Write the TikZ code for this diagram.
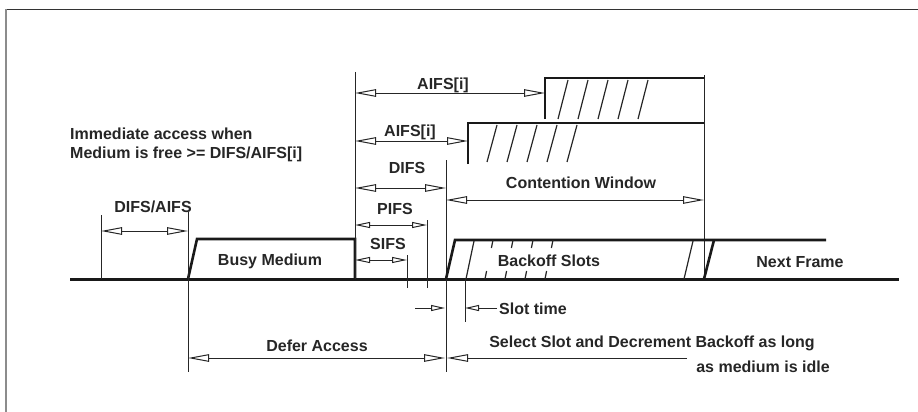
\documentclass[tikz,border=0pt]{standalone}
\usepackage{fontspec}
\setmainfont{Liberation Sans}
\usetikzlibrary{arrows.meta}
\tikzset{
  lbl/.style={font=\fontsize{16}{19}\selectfont\bfseries, text=black!85, inner sep=0pt},
  thinln/.style={line width=1pt, black!85},
  sigln/.style={line width=2.6pt, black!90, line join=miter},
  hatch/.style={line width=1.2pt, black!85},
  dimarr/.style={line width=1pt, black!85, {Triangle[open,length=21pt,width=7.5pt]}-{Triangle[open,length=21pt,width=7.5pt]}},
  onearr/.style={line width=1pt, black!85, -{Triangle[open,length=21pt,width=7.5pt]}},
  smallarr/.style={line width=1pt, black!85, {Triangle[open,length=15pt,width=6pt]}-{Triangle[open,length=15pt,width=6pt]}},
  tinyarr/.style={line width=1pt, black!85, -{Triangle[open,length=14pt,width=6pt]}}
}
\begin{document}
\begin{tikzpicture}[x=1pt,y=-1pt]
\useasboundingbox (0,0) rectangle (918,412);
% frame
\draw[line width=1.6pt, black!80] (5,9.5) -- (918,9.5);
\draw[line width=2pt, black!45] (6,9.5) -- (6,412);

% key coordinates
\coordinate (dA) at (101,215);
\coordinate (busyL) at (188,279);
\coordinate (busyR) at (355,279);
\coordinate (difsX) at (446,279);
\coordinate (cwR) at (704,279);

% baseline
\draw[line width=3pt, black!90] (70,279) -- (899,279);

% busy medium
\draw[sigln] (busyL) -- (197,239) -- (355,239) -- (busyR);
\draw[thinln] (355,72) -- (busyR);

% DIFS/AIFS
\draw[thinln] (dA) -- (101,279);
\draw[thinln] (188,212) -- (188,372);
\draw[dimarr] (101,231) -- (188,231);
\node[lbl] (difsaifs) at (153,207) {DIFS/AIFS};
\node[lbl] (busy) at (270,261) {Busy Medium};

% SIFS
\draw[smallarr] (355,260) -- (407,260);
\draw[thinln] (407,255) -- (407,288);
\node[lbl] (sifs) at (388,244) {SIFS};

% PIFS
\draw[smallarr] (355,225) -- (427,225);
\draw[thinln] (427,220) -- (427,288);
\node[lbl] (pifs) at (395,209) {PIFS};

% DIFS
\draw[dimarr] (355,188) -- (446,188);
\draw[thinln] (446,160) -- (446,372);
\node[lbl] (difs) at (407,168) {DIFS};

% contention window
\draw[dimarr] (446,200) -- (704,200);
\node[lbl] (cw) at (581,183) {Contention Window};
\draw[thinln] (704,75) -- (cwR);

% AIFS top
\draw[dimarr] (355,93) -- (545,93);
\node[lbl] (aifs1) at (443,85) {AIFS[i]};
\draw[sigln] (545,119) -- (545,78) -- (704,78);
\foreach \i in {0,...,4}
  \draw[hatch] (558+20*\i,119) -- (568+20*\i,80);

% AIFS second
\draw[dimarr] (355,141) -- (468,141);
\node[lbl] (aifs2) at (410,132) {AIFS[i]};
\draw[sigln] (468,164) -- (468,123) -- (704,123);
\foreach \i in {0,...,4}
  \draw[hatch] (487+20*\i,162) -- (497+20*\i,125);

% backoff slots
\draw[sigln] (difsX) -- (455,240) -- (826,240);
\draw[hatch] (466,279) -- (474,241);
\draw[thinln] (465,279) -- (465,322);
\foreach \i in {0,...,3} {
  \draw[hatch] (485+20*\i,279) -- (486.6+20*\i,271);
  \draw[hatch] (491.4+20*\i,248) -- (493+20*\i,240);
}
\draw[hatch] (684,279) -- (693,241);
\draw[sigln] (cwR) -- (714,240);
\node[lbl] (backoff) at (549,261) {Backoff Slots};
\node[lbl] (next) at (800,262) {Next Frame};

% slot time
\draw[tinyarr] (415,308) -- (445,308);
\draw[tinyarr] (497,308) -- (465,308);
\node[lbl, anchor=west] (slot) at (499,309) {Slot time};

% defer access
\draw[dimarr] (188,358) -- (445,358);
\node[lbl] (defer) at (317,346) {Defer Access};
\draw[onearr] (687,358) -- (447,358);
\node[lbl] (sel1) at (652,343) {Select Slot and Decrement Backoff as long};
\node[lbl] (sel2) at (763,367) {as medium is idle};

% immediate access
\node[lbl, anchor=west] (imm1) at (70,134) {Immediate access when};
\node[lbl, anchor=west] (imm2) at (70,154) {Medium is free >= DIFS/AIFS[i]};
\end{tikzpicture}
\end{document}
